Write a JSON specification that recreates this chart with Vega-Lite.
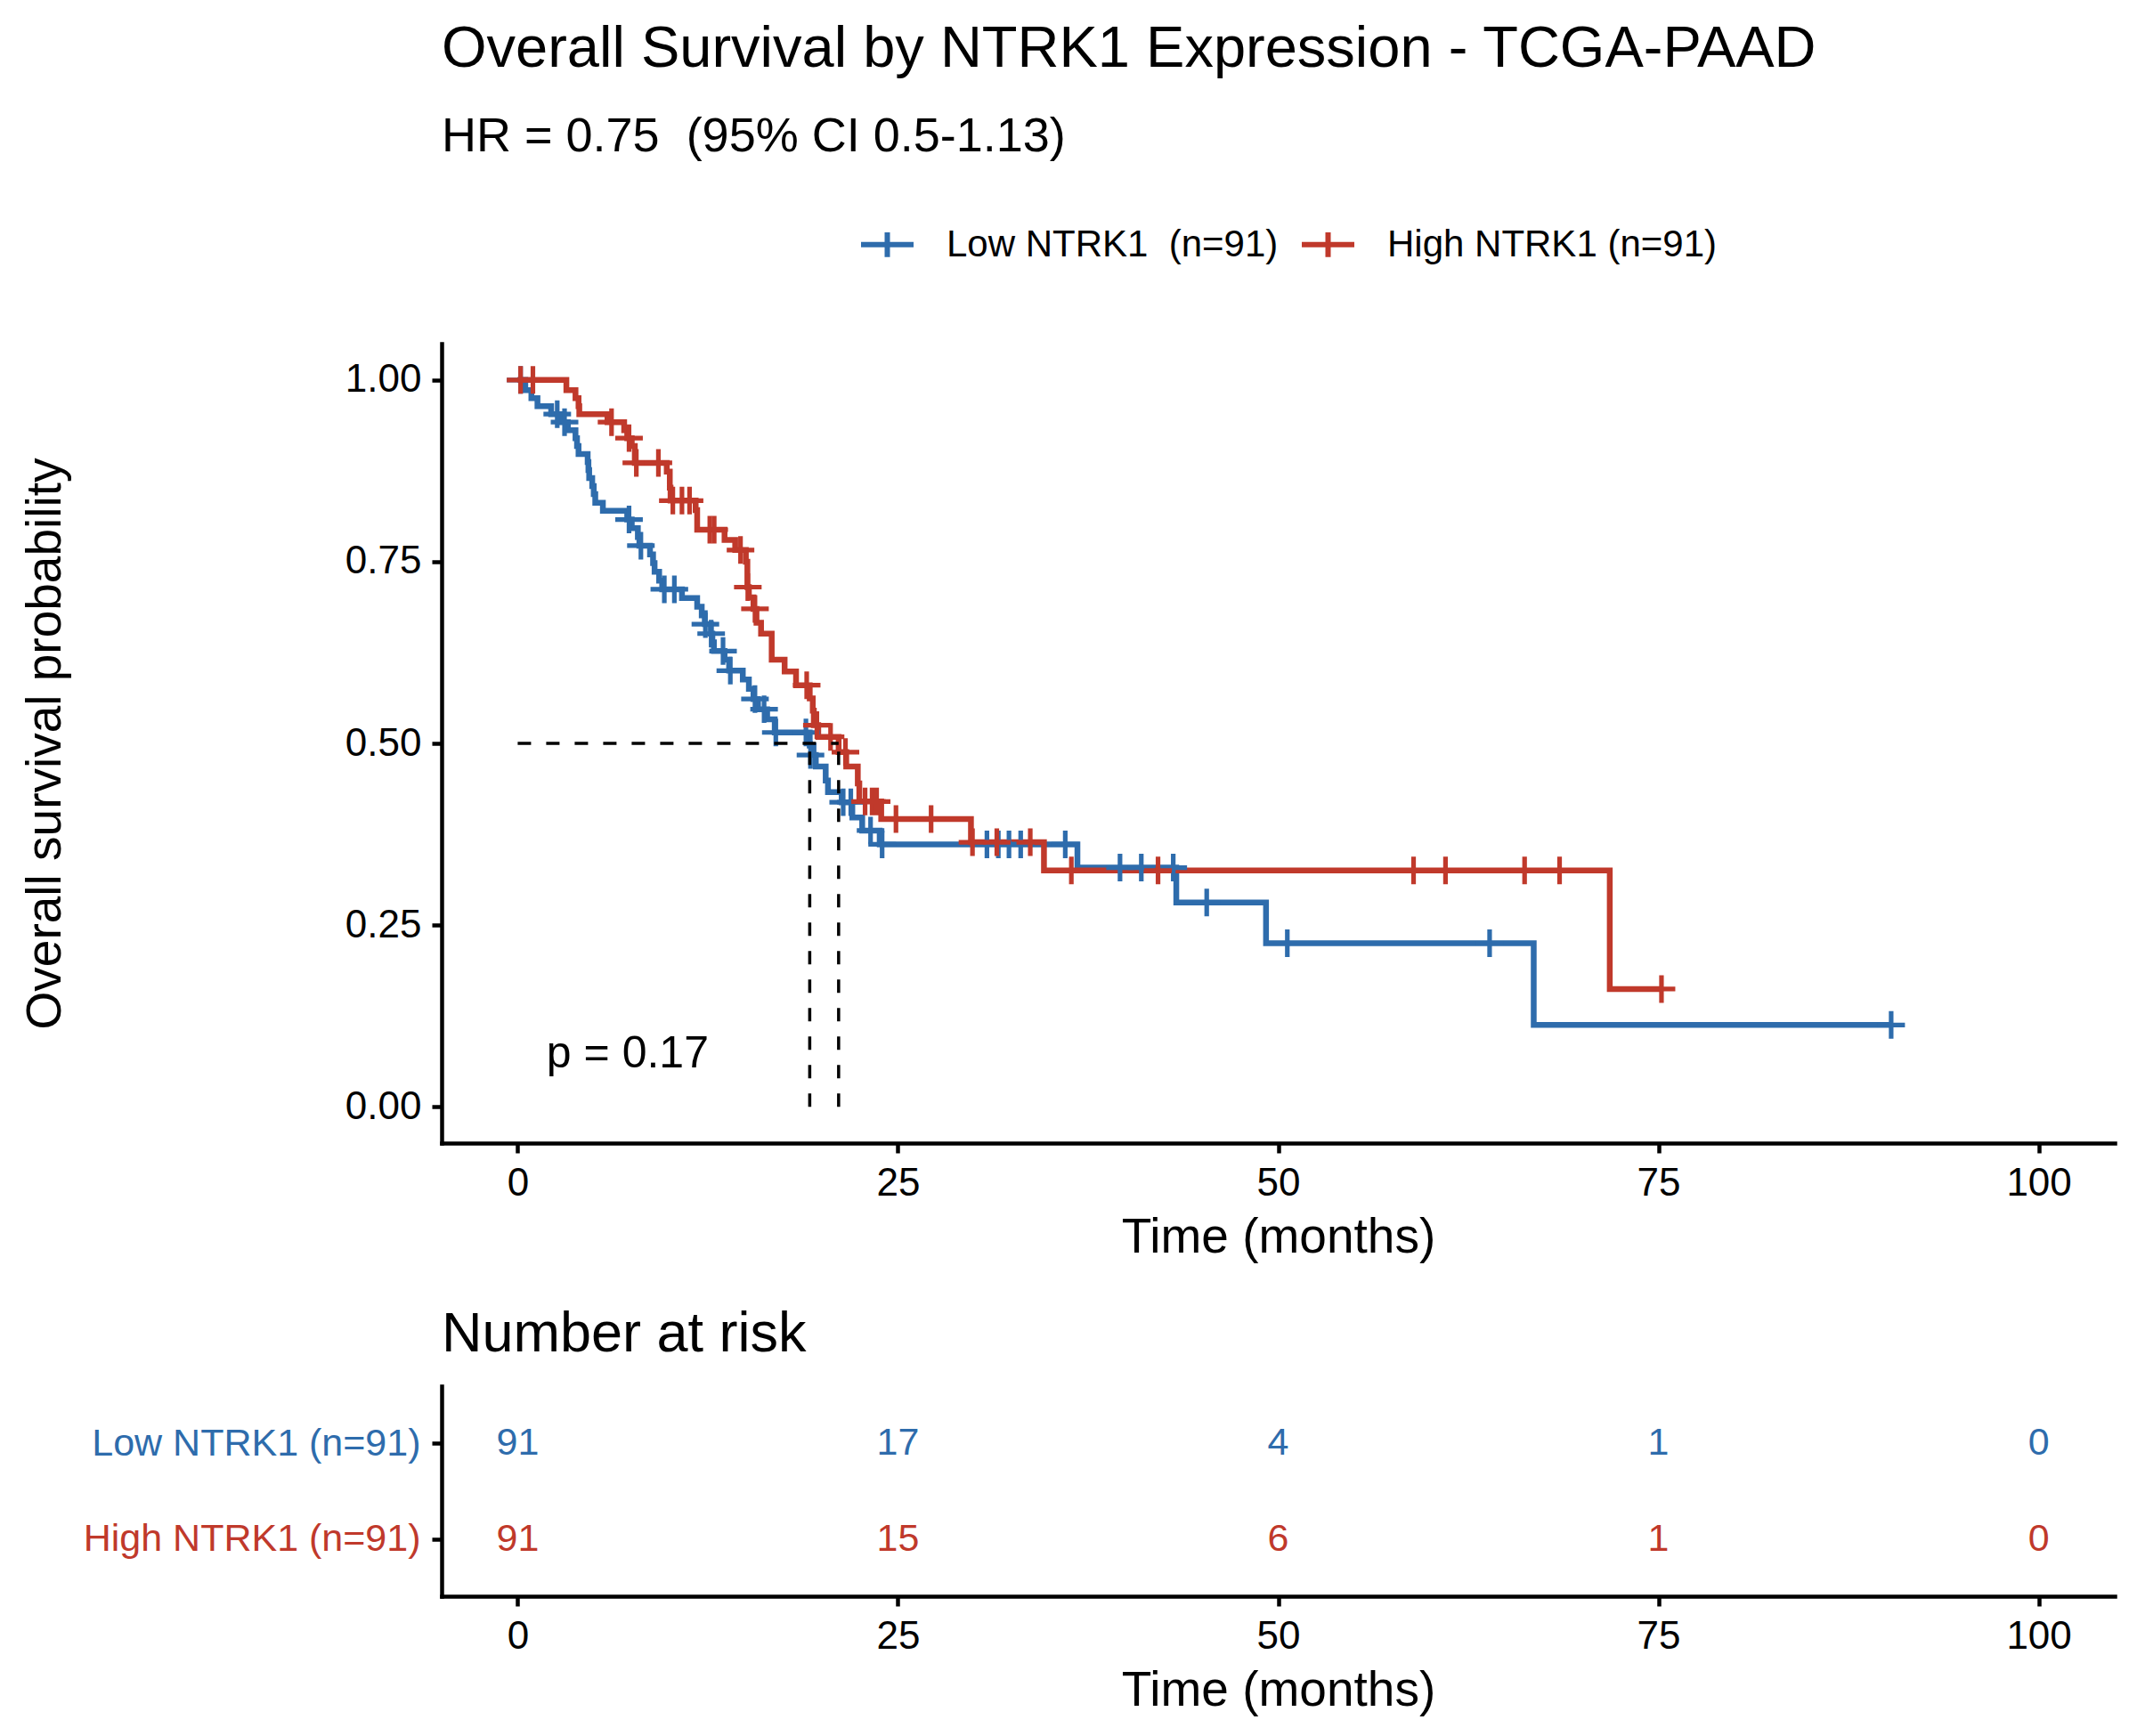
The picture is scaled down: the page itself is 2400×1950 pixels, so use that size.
{
"$schema": "https://vega.github.io/schema/vega-lite/v6.json",
"padding": {"left": 23, "top": 23, "right": 5, "bottom": 5},
"background": "white",
"config": {
 "font": "Liberation Sans",
 "view": {"stroke": null},
 "title": {"fontWeight": "normal", "color": "black", "subtitleColor": "black"},
 "axis": {"grid": false, "domainColor": "black", "domainWidth": 4.5, "domainCap": "square", "tickColor": "black", "tickWidth": 4.5, "tickSize": 11, "labelColor": "black", "labelFontSize": 44, "labelPadding": 12, "labelLimit": 1000, "titleFontSize": 55, "titleFontWeight": "normal", "titleColor": "black"}
},
"datasets": {
 "km": [
  {"group":"Low NTRK1\u00a0 (n=91)","time":0,"surv":1},{"group":"Low NTRK1\u00a0 (n=91)","time":0.5,"surv":0.986},{"group":"Low NTRK1\u00a0 (n=91)","time":0.9,"surv":0.975},{"group":"Low NTRK1\u00a0 (n=91)","time":1.3,"surv":0.964},{"group":"Low NTRK1\u00a0 (n=91)","time":2.2,"surv":0.953},{"group":"Low NTRK1\u00a0 (n=91)","time":2.9,"surv":0.942},{"group":"Low NTRK1\u00a0 (n=91)","time":3.3,"surv":0.931},{"group":"Low NTRK1\u00a0 (n=91)","time":3.8,"surv":0.92},{"group":"Low NTRK1\u00a0 (n=91)","time":3.9,"surv":0.909},{"group":"Low NTRK1\u00a0 (n=91)","time":4.0,"surv":0.898},{"group":"Low NTRK1\u00a0 (n=91)","time":4.6,"surv":0.887},{"group":"Low NTRK1\u00a0 (n=91)","time":4.65,"surv":0.876},{"group":"Low NTRK1\u00a0 (n=91)","time":4.7,"surv":0.865},{"group":"Low NTRK1\u00a0 (n=91)","time":4.9,"surv":0.854},{"group":"Low NTRK1\u00a0 (n=91)","time":5.0,"surv":0.843},{"group":"Low NTRK1\u00a0 (n=91)","time":5.1,"surv":0.831},{"group":"Low NTRK1\u00a0 (n=91)","time":5.6,"surv":0.82},{"group":"Low NTRK1\u00a0 (n=91)","time":7.2,"surv":0.808},{"group":"Low NTRK1\u00a0 (n=91)","time":7.5,"surv":0.796},{"group":"Low NTRK1\u00a0 (n=91)","time":7.9,"surv":0.784},{"group":"Low NTRK1\u00a0 (n=91)","time":8.0,"surv":0.772},{"group":"Low NTRK1\u00a0 (n=91)","time":8.7,"surv":0.76},{"group":"Low NTRK1\u00a0 (n=91)","time":8.9,"surv":0.748},{"group":"Low NTRK1\u00a0 (n=91)","time":9.0,"surv":0.736},{"group":"Low NTRK1\u00a0 (n=91)","time":9.3,"surv":0.724},{"group":"Low NTRK1\u00a0 (n=91)","time":9.5,"surv":0.712},{"group":"Low NTRK1\u00a0 (n=91)","time":10.8,"surv":0.7},{"group":"Low NTRK1\u00a0 (n=91)","time":11.8,"surv":0.688},{"group":"Low NTRK1\u00a0 (n=91)","time":12.1,"surv":0.676},{"group":"Low NTRK1\u00a0 (n=91)","time":12.3,"surv":0.664},{"group":"Low NTRK1\u00a0 (n=91)","time":12.7,"surv":0.651},{"group":"Low NTRK1\u00a0 (n=91)","time":12.8,"surv":0.639},{"group":"Low NTRK1\u00a0 (n=91)","time":12.9,"surv":0.627},{"group":"Low NTRK1\u00a0 (n=91)","time":13.6,"surv":0.615},{"group":"Low NTRK1\u00a0 (n=91)","time":13.9,"surv":0.6},{"group":"Low NTRK1\u00a0 (n=91)","time":14.8,"surv":0.588},{"group":"Low NTRK1\u00a0 (n=91)","time":15.2,"surv":0.575},{"group":"Low NTRK1\u00a0 (n=91)","time":15.5,"surv":0.561},{"group":"Low NTRK1\u00a0 (n=91)","time":15.8,"surv":0.547},{"group":"Low NTRK1\u00a0 (n=91)","time":16.4,"surv":0.533},{"group":"Low NTRK1\u00a0 (n=91)","time":16.9,"surv":0.515},{"group":"Low NTRK1\u00a0 (n=91)","time":19.2,"surv":0.497},{"group":"Low NTRK1\u00a0 (n=91)","time":19.45,"surv":0.484},{"group":"Low NTRK1\u00a0 (n=91)","time":19.6,"surv":0.468},{"group":"Low NTRK1\u00a0 (n=91)","time":20.25,"surv":0.449},{"group":"Low NTRK1\u00a0 (n=91)","time":20.4,"surv":0.433},{"group":"Low NTRK1\u00a0 (n=91)","time":21.3,"surv":0.419},{"group":"Low NTRK1\u00a0 (n=91)","time":22.0,"surv":0.398},{"group":"Low NTRK1\u00a0 (n=91)","time":22.65,"surv":0.38},{"group":"Low NTRK1\u00a0 (n=91)","time":23.8,"surv":0.361},{"group":"Low NTRK1\u00a0 (n=91)","time":36.8,"surv":0.329},{"group":"Low NTRK1\u00a0 (n=91)","time":43.3,"surv":0.281},{"group":"Low NTRK1\u00a0 (n=91)","time":49.2,"surv":0.225},{"group":"Low NTRK1\u00a0 (n=91)","time":66.8,"surv":0.1125},{"group":"Low NTRK1\u00a0 (n=91)","time":90.3,"surv":0.1125},
  {"group":"High NTRK1 (n=91)","time":0,"surv":1},{"group":"High NTRK1 (n=91)","time":3.2,"surv":0.986},{"group":"High NTRK1 (n=91)","time":3.8,"surv":0.975},{"group":"High NTRK1 (n=91)","time":4.0,"surv":0.964},{"group":"High NTRK1 (n=91)","time":4.05,"surv":0.953},{"group":"High NTRK1 (n=91)","time":5.9,"surv":0.942},{"group":"High NTRK1 (n=91)","time":7.0,"surv":0.931},{"group":"High NTRK1 (n=91)","time":7.2,"surv":0.92},{"group":"High NTRK1 (n=91)","time":7.5,"surv":0.909},{"group":"High NTRK1 (n=91)","time":7.7,"surv":0.886},{"group":"High NTRK1 (n=91)","time":9.8,"surv":0.874},{"group":"High NTRK1 (n=91)","time":10.0,"surv":0.852},{"group":"High NTRK1 (n=91)","time":10.05,"surv":0.834},{"group":"High NTRK1 (n=91)","time":11.7,"surv":0.821},{"group":"High NTRK1 (n=91)","time":11.8,"surv":0.794},{"group":"High NTRK1 (n=91)","time":13.6,"surv":0.78},{"group":"High NTRK1 (n=91)","time":14.3,"surv":0.766},{"group":"High NTRK1 (n=91)","time":15.0,"surv":0.75},{"group":"High NTRK1 (n=91)","time":15.1,"surv":0.715},{"group":"High NTRK1 (n=91)","time":15.2,"surv":0.701},{"group":"High NTRK1 (n=91)","time":15.5,"surv":0.685},{"group":"High NTRK1 (n=91)","time":15.7,"surv":0.666},{"group":"High NTRK1 (n=91)","time":16.0,"surv":0.651},{"group":"High NTRK1 (n=91)","time":16.7,"surv":0.615},{"group":"High NTRK1 (n=91)","time":17.55,"surv":0.599},{"group":"High NTRK1 (n=91)","time":18.3,"surv":0.58},{"group":"High NTRK1 (n=91)","time":19.2,"surv":0.562},{"group":"High NTRK1 (n=91)","time":19.4,"surv":0.545},{"group":"High NTRK1 (n=91)","time":19.47,"surv":0.525},{"group":"High NTRK1 (n=91)","time":19.76,"surv":0.509},{"group":"High NTRK1 (n=91)","time":21.1,"surv":0.488},{"group":"High NTRK1 (n=91)","time":21.6,"surv":0.468},{"group":"High NTRK1 (n=91)","time":22.36,"surv":0.445},{"group":"High NTRK1 (n=91)","time":22.46,"surv":0.42},{"group":"High NTRK1 (n=91)","time":23.9,"surv":0.396},{"group":"High NTRK1 (n=91)","time":29.8,"surv":0.364},{"group":"High NTRK1 (n=91)","time":34.6,"surv":0.325},{"group":"High NTRK1 (n=91)","time":71.8,"surv":0.162},{"group":"High NTRK1 (n=91)","time":75.2,"surv":0.162}
 ],
 "censor": [
  {"group":"Low NTRK1\u00a0 (n=91)","time":0.19,"surv":1},{"group":"Low NTRK1\u00a0 (n=91)","time":2.6,"surv":0.953},{"group":"Low NTRK1\u00a0 (n=91)","time":3.08,"surv":0.942},{"group":"Low NTRK1\u00a0 (n=91)","time":7.32,"surv":0.808},{"group":"Low NTRK1\u00a0 (n=91)","time":8.1,"surv":0.772},{"group":"Low NTRK1\u00a0 (n=91)","time":9.64,"surv":0.712},{"group":"Low NTRK1\u00a0 (n=91)","time":10.3,"surv":0.712},{"group":"Low NTRK1\u00a0 (n=91)","time":12.34,"surv":0.664},{"group":"Low NTRK1\u00a0 (n=91)","time":12.72,"surv":0.651},{"group":"Low NTRK1\u00a0 (n=91)","time":13.5,"surv":0.627},{"group":"Low NTRK1\u00a0 (n=91)","time":13.98,"surv":0.6},{"group":"Low NTRK1\u00a0 (n=91)","time":15.6,"surv":0.561},{"group":"Low NTRK1\u00a0 (n=91)","time":16.2,"surv":0.547},{"group":"Low NTRK1\u00a0 (n=91)","time":16.97,"surv":0.515},{"group":"Low NTRK1\u00a0 (n=91)","time":18.95,"surv":0.515},{"group":"Low NTRK1\u00a0 (n=91)","time":19.25,"surv":0.484},{"group":"Low NTRK1\u00a0 (n=91)","time":21.4,"surv":0.419},{"group":"Low NTRK1\u00a0 (n=91)","time":21.9,"surv":0.419},{"group":"Low NTRK1\u00a0 (n=91)","time":23.2,"surv":0.38},{"group":"Low NTRK1\u00a0 (n=91)","time":23.96,"surv":0.361},{"group":"Low NTRK1\u00a0 (n=91)","time":30.85,"surv":0.361},{"group":"Low NTRK1\u00a0 (n=91)","time":31.6,"surv":0.361},{"group":"Low NTRK1\u00a0 (n=91)","time":32.3,"surv":0.361},{"group":"Low NTRK1\u00a0 (n=91)","time":33.07,"surv":0.361},{"group":"Low NTRK1\u00a0 (n=91)","time":36.0,"surv":0.361},{"group":"Low NTRK1\u00a0 (n=91)","time":39.6,"surv":0.329},{"group":"Low NTRK1\u00a0 (n=91)","time":41.0,"surv":0.329},{"group":"Low NTRK1\u00a0 (n=91)","time":43.1,"surv":0.329},{"group":"Low NTRK1\u00a0 (n=91)","time":45.3,"surv":0.281},{"group":"Low NTRK1\u00a0 (n=91)","time":50.6,"surv":0.225},{"group":"Low NTRK1\u00a0 (n=91)","time":63.9,"surv":0.225},{"group":"Low NTRK1\u00a0 (n=91)","time":90.3,"surv":0.1125},
  {"group":"High NTRK1 (n=91)","time":0.19,"surv":1},{"group":"High NTRK1 (n=91)","time":1.0,"surv":1},{"group":"High NTRK1 (n=91)","time":6.17,"surv":0.942},{"group":"High NTRK1 (n=91)","time":7.32,"surv":0.92},{"group":"High NTRK1 (n=91)","time":7.8,"surv":0.886},{"group":"High NTRK1 (n=91)","time":9.25,"surv":0.886},{"group":"High NTRK1 (n=91)","time":10.2,"surv":0.834},{"group":"High NTRK1 (n=91)","time":10.8,"surv":0.834},{"group":"High NTRK1 (n=91)","time":11.3,"surv":0.834},{"group":"High NTRK1 (n=91)","time":12.63,"surv":0.794},{"group":"High NTRK1 (n=91)","time":12.92,"surv":0.794},{"group":"High NTRK1 (n=91)","time":14.65,"surv":0.766},{"group":"High NTRK1 (n=91)","time":15.13,"surv":0.715},{"group":"High NTRK1 (n=91)","time":15.6,"surv":0.685},{"group":"High NTRK1 (n=91)","time":19.0,"surv":0.58},{"group":"High NTRK1 (n=91)","time":19.67,"surv":0.525},{"group":"High NTRK1 (n=91)","time":20.57,"surv":0.509},{"group":"High NTRK1 (n=91)","time":21.55,"surv":0.488},{"group":"High NTRK1 (n=91)","time":22.84,"surv":0.42},{"group":"High NTRK1 (n=91)","time":23.3,"surv":0.42},{"group":"High NTRK1 (n=91)","time":23.6,"surv":0.42},{"group":"High NTRK1 (n=91)","time":24.87,"surv":0.396},{"group":"High NTRK1 (n=91)","time":27.18,"surv":0.396},{"group":"High NTRK1 (n=91)","time":29.9,"surv":0.364},{"group":"High NTRK1 (n=91)","time":31.5,"surv":0.364},{"group":"High NTRK1 (n=91)","time":33.7,"surv":0.364},{"group":"High NTRK1 (n=91)","time":36.4,"surv":0.325},{"group":"High NTRK1 (n=91)","time":42.1,"surv":0.325},{"group":"High NTRK1 (n=91)","time":58.9,"surv":0.325},{"group":"High NTRK1 (n=91)","time":61.0,"surv":0.325},{"group":"High NTRK1 (n=91)","time":66.2,"surv":0.325},{"group":"High NTRK1 (n=91)","time":68.5,"surv":0.325},{"group":"High NTRK1 (n=91)","time":75.2,"surv":0.162}
 ],
 "median": [
  {"time":0,"time2":21.1,"surv":0.5,"surv2":0.5},
  {"time":19.2,"time2":19.2,"surv":0,"surv2":0.5},
  {"time":21.1,"time2":21.1,"surv":0,"surv2":0.5}
 ],
 "pval": [{"label":"p = 0.17"}],
 "risk": [
  {"strata":"Low NTRK1 (n=91)","time":0,"n":91},{"strata":"Low NTRK1 (n=91)","time":25,"n":17},{"strata":"Low NTRK1 (n=91)","time":50,"n":4},{"strata":"Low NTRK1 (n=91)","time":75,"n":1},{"strata":"Low NTRK1 (n=91)","time":100,"n":0},
  {"strata":"High NTRK1 (n=91)","time":0,"n":91},{"strata":"High NTRK1 (n=91)","time":25,"n":15},{"strata":"High NTRK1 (n=91)","time":50,"n":6},{"strata":"High NTRK1 (n=91)","time":75,"n":1},{"strata":"High NTRK1 (n=91)","time":100,"n":0}
 ]
},
"spacing": 51,
"resolve": {"scale": {"color": "independent"}},
"vconcat": [
 {
  "width": 1879, "height": 898,
  "title": {"text": "Overall Survival by NTRK1 Expression - TCGA-PAAD", "subtitle": "HR = 0.75\u00a0 (95% CI 0.5-1.13)", "anchor": "start", "frame": "group", "fontSize": 65, "subtitleFontSize": 54, "subtitlePadding": 38, "offset": 60},
  "layer": [
   {
    "data": {"name": "km"},
    "mark": {"type": "line", "interpolate": "step-after", "strokeWidth": 6.5},
    "encoding": {
     "x": {"field": "time", "type": "quantitative", "scale": {"domain": [-5, 105], "nice": false, "zero": false}, "axis": {"values": [0, 25, 50, 75, 100], "title": "Time (months)", "titlePadding": 12}},
     "y": {"field": "surv", "type": "quantitative", "scale": {"domain": [-0.05, 1.05], "nice": false, "zero": false}, "axis": {"values": [0, 0.25, 0.5, 0.75, 1], "format": ".2f", "title": "Overall survival probability", "minExtent": 105, "maxExtent": 105, "titlePadding": 312}},
     "color": {"field": "group", "type": "nominal", "scale": {"domain": ["Low NTRK1\u00a0 (n=91)", "High NTRK1 (n=91)"], "range": ["#2E6CAC", "#C0392B"]},
      "legend": {"orient": "none", "legendX": 468, "legendY": -144, "direction": "horizontal", "title": null, "symbolType": "M-1,0H1M0,-0.47V0.47", "symbolSize": 3481, "symbolStrokeWidth": 6, "labelFontSize": 42, "labelLimit": 1000, "labelColor": "black", "labelOffset": 34, "columnPadding": 14, "padding": 0}}
    }
   },
   {
    "data": {"name": "censor"},
    "mark": {"type": "point", "shape": "M-1,0H1M0,-1V1", "filled": false, "size": 960, "strokeWidth": 5.2, "opacity": 1},
    "encoding": {
     "x": {"field": "time", "type": "quantitative", "title": "Time (months)"},
     "y": {"field": "surv", "type": "quantitative", "title": "Overall survival probability"},
     "color": {"field": "group", "type": "nominal", "scale": {"domain": ["Low NTRK1\u00a0 (n=91)", "High NTRK1 (n=91)"], "range": ["#2E6CAC", "#C0392B"]},
      "legend": {"orient": "none", "legendX": 468, "legendY": -144, "direction": "horizontal", "title": null, "symbolType": "M-1,0H1M0,-0.47V0.47", "symbolSize": 3481, "symbolStrokeWidth": 6, "labelFontSize": 42, "labelLimit": 1000, "labelColor": "black", "labelOffset": 34, "columnPadding": 14, "padding": 0}}
    }
   },
   {
    "data": {"name": "median"},
    "mark": {"type": "rule", "strokeDash": [15, 17], "strokeWidth": 3.5, "color": "black"},
    "encoding": {
     "x": {"field": "time", "type": "quantitative", "title": "Time (months)"},
     "y": {"field": "surv", "type": "quantitative", "title": "Overall survival probability"},
     "x2": {"field": "time2"}, "y2": {"field": "surv2"}
    }
   },
   {
    "data": {"name": "pval"},
    "mark": {"type": "text", "align": "left", "baseline": "alphabetic", "fontSize": 50, "color": "black"},
    "encoding": {
     "x": {"datum": 1.9, "type": "quantitative"},
     "y": {"datum": 0.054, "type": "quantitative"},
     "text": {"field": "label", "type": "nominal"}
    }
   }
  ]
 },
 {
  "width": 1879, "height": 236,
  "data": {"name": "risk"},
  "title": {"text": "Number at risk", "anchor": "start", "frame": "group", "fontSize": 63, "offset": 26},
  "mark": {"type": "text", "fontSize": 43, "baseline": "middle", "align": "center"},
  "encoding": {
   "x": {"field": "time", "type": "quantitative", "scale": {"domain": [-5, 105], "nice": false, "zero": false}, "axis": {"values": [0, 25, 50, 75, 100], "title": "Time (months)", "titlePadding": 12}},
   "y": {"field": "strata", "type": "nominal", "scale": {"type": "point", "domain": ["Low NTRK1 (n=91)", "High NTRK1 (n=91)"], "padding": 0.6}, "axis": {"title": null, "labelFontSize": 43, "labelPadding": 13, "labelColor": {"condition": {"test": "datum.value === 'Low NTRK1 (n=91)'", "value": "#2E6CAC"}, "value": "#C0392B"}}},
   "color": {"field": "strata", "type": "nominal", "scale": {"domain": ["Low NTRK1 (n=91)", "High NTRK1 (n=91)"], "range": ["#2E6CAC", "#C0392B"]}, "legend": null},
   "text": {"field": "n", "type": "quantitative"}
  }
 }
]
}
